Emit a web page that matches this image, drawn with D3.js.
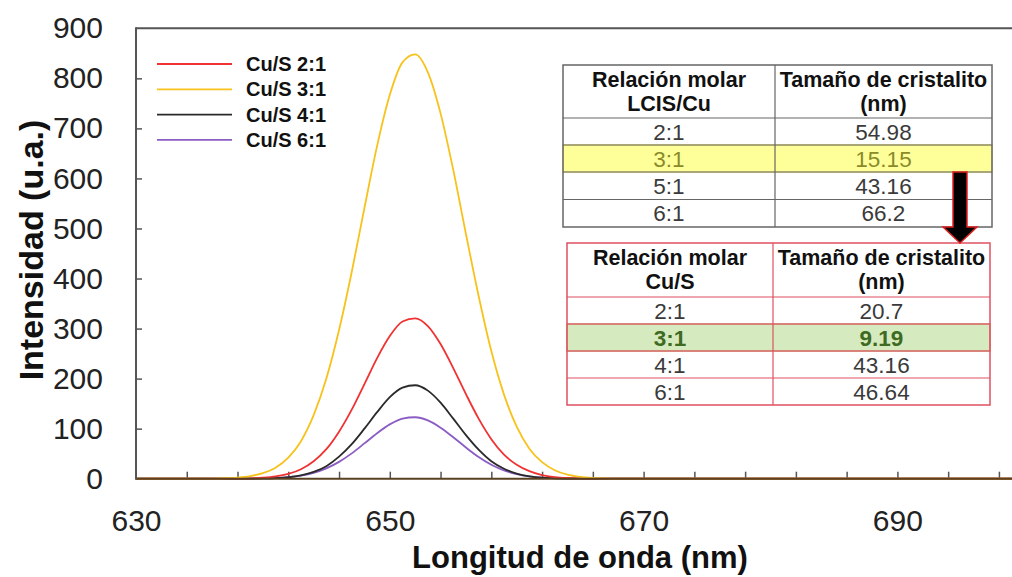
<!DOCTYPE html>
<html>
<head>
<meta charset="utf-8">
<script src="https://cdn.jsdelivr.net/npm/d3@7"></script>
<style>
  body { margin: 0; background: #fff; }
  svg { display: block; font-family: "Liberation Sans", Arial, sans-serif; }
</style>
</head>
<body>
<script>
// Datos
const wavelengths = [630, 634, 636, 637, 638, 639, 640, 641, 642, 643, 644, 645, 646, 647, 648, 649,
  650, 651, 652, 653, 654, 655, 656, 657, 658, 659, 660, 661, 662, 663, 664, 665, 666, 667, 668, 672, 700];

const cu21 = [0, 0, 0.04, 0.1, 0.3, 0.8, 2, 4.5, 9.6, 19, 35, 59, 94, 138, 189, 241,
  285, 314, 320.5, 305, 269, 221, 169, 120, 79, 48, 28, 15, 7.2, 3.3, 1.4, 0.55, 0.2, 0.07, 0, 0, 0];
const cu31 = [0, 0.05, 0.35, 0.9, 2.2, 5.1, 11, 22, 42, 75, 127, 200, 297, 413, 541, 665,
  767, 832, 848, 812, 730, 617, 489, 365, 255, 168, 104, 60, 33, 17, 8.1, 3.7, 1.6, 0.6, 0.2, 0, 0];
const cu41 = [0, 0, 0, 0.01, 0.05, 0.16, 0.45, 1.2, 2.9, 6.6, 13.5, 25, 44, 69, 100, 133,
  163, 182, 186.7, 176, 152, 120, 87, 58, 35, 20, 10.2, 4.8, 2.1, 0.8, 0.3, 0.1, 0, 0, 0, 0, 0];
const cu61 = [0, 0, 0.01, 0.03, 0.08, 0.22, 0.57, 1.4, 3, 6.2, 11.8, 20.7, 33.6, 50.6, 70.5, 90.9,
  108.5, 120, 122.8, 116.4, 102, 82.9, 62.3, 43.3, 27.9, 16.6, 9.2, 4.7, 2.2, 0.97, 0.39, 0.15, 0.05, 0, 0, 0, 0];

const seriesNames = ["Cu/S 2:1", "Cu/S 3:1", "Cu/S 4:1", "Cu/S 6:1"];
const seriesColors = ["#f03232", "#f8c21c", "#2a2a2a", "#8a5cc4"];

const xTickLabels = [630, 650, 670, 690];
const yTickLabels = [0, 100, 200, 300, 400, 500, 600, 700, 800, 900];

const table1Header = [["Relación molar", "LCIS/Cu"], ["Tamaño de cristalito", "(nm)"]];
const table1Ratios = ["2:1", "3:1", "5:1", "6:1"];
const table1Sizes = ["54.98", "15.15", "43.16", "66.2"];

const table2Header = [["Relación molar", "Cu/S"], ["Tamaño de cristalito", "(nm)"]];
const table2Ratios = ["2:1", "3:1", "4:1", "6:1"];
const table2Sizes = ["20.7", "9.19", "43.16", "46.64"];

// Tamaño
const w = 1012;
const h = 577;
const plotLeft = 136;
const plotTop = 28.3;
const plotBottom = 478.7;

const svg = d3.select("body").append("svg")
  .attr("width", w)
  .attr("height", h);

// Escalas
const x = d3.scaleLinear().domain([630, 700]).range([plotLeft, plotLeft + 70 * 12.69]);
const y = d3.scaleLinear().domain([0, 900]).range([plotBottom, plotTop]);

// Marco
svg.append("line")
  .attr("x1", plotLeft).attr("x2", w)
  .attr("y1", plotTop).attr("y2", plotTop)
  .attr("stroke", "#555").attr("stroke-width", 2);

// Eje Y
const yAxis = svg.append("g")
  .attr("transform", `translate(${plotLeft},0)`)
  .call(d3.axisLeft(y).tickValues(yTickLabels).tickSize(0).tickPadding(33));
yAxis.select(".domain").remove();
yAxis.selectAll("text").attr("font-size", 30).attr("fill", "#222")
  .attr("font-family", "Liberation Sans, Arial, sans-serif");

svg.append("g")
  .attr("transform", `translate(${plotLeft},0)`)
  .call(d3.axisRight(y).tickValues(yTickLabels.slice(1, -1)).tickSize(6).tickFormat(""))
  .call(g => g.select(".domain").remove())
  .selectAll("line").attr("stroke", "#555").attr("stroke-width", 1.5);

// Eje X
const xAxis = svg.append("g")
  .attr("transform", `translate(0,${plotBottom})`)
  .call(d3.axisBottom(x).tickValues(xTickLabels).tickSize(0).tickPadding(31));
xAxis.select(".domain").remove();
xAxis.selectAll("text").attr("font-size", 30).attr("fill", "#222")
  .attr("font-family", "Liberation Sans, Arial, sans-serif");

svg.append("g")
  .attr("transform", `translate(0,${plotBottom})`)
  .call(d3.axisTop(x).tickValues(d3.range(634, 701, 4)).tickSize(7).tickFormat(""))
  .call(g => g.select(".domain").remove())
  .selectAll("line").attr("stroke", "#555").attr("stroke-width", 1.5);

// Curvas
const series = [cu21, cu31, cu41, cu61];
const line = d3.line()
  .x((d, i) => x(wavelengths[i]))
  .y(d => y(d))
  .curve(d3.curveMonotoneX);

[3, 2, 0, 1].forEach(k => {
  svg.append("path")
    .datum(series[k])
    .attr("fill", "none")
    .attr("stroke", seriesColors[k])
    .attr("stroke-width", 1.8)
    .attr("d", line);
});

svg.append("line")
  .attr("x1", plotLeft).attr("x2", w)
  .attr("y1", plotBottom).attr("y2", plotBottom)
  .attr("stroke", "#5a4020").attr("stroke-width", 2);
svg.append("line")
  .attr("x1", plotLeft).attr("x2", plotLeft)
  .attr("y1", plotTop - 1).attr("y2", plotBottom + 1)
  .attr("stroke", "#555").attr("stroke-width", 2);

// Leyenda
seriesNames.forEach((name, i) => {
  const ly = 64 + i * 25.3;
  svg.append("line")
    .attr("x1", 157).attr("x2", 232)
    .attr("y1", ly).attr("y2", ly)
    .attr("stroke", seriesColors[i]).attr("stroke-width", 1.8);
  svg.append("text")
    .attr("x", 246).attr("y", ly + 7)
    .attr("font-size", 20).attr("font-weight", "bold").attr("fill", "#111")
    .text(name);
});

// Tablas
function drawTable(cfg) {
  const g = svg.append("g");
  const [x0, xm, x1] = cfg.xs;
  const ys = cfg.ys;
  // fila resaltada
  g.append("rect")
    .attr("x", x0).attr("y", ys[2])
    .attr("width", x1 - x0).attr("height", ys[3] - ys[2])
    .attr("fill", cfg.hlFill)
    .attr("stroke", cfg.hlStroke).attr("stroke-width", 1.5);
  // lineas
  g.append("rect")
    .attr("x", x0).attr("y", ys[0])
    .attr("width", x1 - x0).attr("height", ys[ys.length - 1] - ys[0])
    .attr("fill", "none").attr("stroke", cfg.border).attr("stroke-width", 1.5);
  ys.slice(1, -1).forEach(yy => {
    g.append("line").attr("x1", x0).attr("x2", x1).attr("y1", yy).attr("y2", yy)
      .attr("stroke", cfg.border).attr("stroke-width", 1.2);
  });
  g.append("line").attr("x1", xm).attr("x2", xm).attr("y1", ys[0]).attr("y2", ys[ys.length - 1])
    .attr("stroke", cfg.border).attr("stroke-width", 1.2);
  const cx = [(x0 + xm) / 2, (xm + x1) / 2];
  // encabezado
  cfg.header.forEach((lines, c) => {
    lines.forEach((t, j) => {
      g.append("text")
        .attr("x", cx[c]).attr("y", ys[0] + 22 + j * 24)
        .attr("text-anchor", "middle")
        .attr("font-size", 21.5).attr("font-weight", "bold").attr("fill", "#111")
        .text(t);
    });
  });
  // filas
  cfg.ratios.forEach((r, i) => {
    const yy = (ys[i + 1] + ys[i + 2]) / 2 + 8;
    const hl = i === 1;
    [r, cfg.sizes[i]].forEach((t, c) => {
      g.append("text")
        .attr("x", cx[c]).attr("y", yy)
        .attr("text-anchor", "middle")
        .attr("font-size", 22.5)
        .attr("font-weight", hl && cfg.hlBold ? "bold" : "normal")
        .attr("fill", hl ? cfg.hlText : "#3a3a3a")
        .text(t);
    });
  });
}

drawTable({
  xs: [563, 775, 992], ys: [65, 118, 145, 172, 199.5, 227],
  header: table1Header, ratios: table1Ratios, sizes: table1Sizes,
  border: "#666", hlFill: "#ffff99", hlStroke: "#e8e070", hlText: "#8a8a2a", hlBold: false
});

drawTable({
  xs: [567, 773, 990], ys: [243, 297, 324, 351, 378, 405],
  header: table2Header, ratios: table2Ratios, sizes: table2Sizes,
  border: "#e05060", hlFill: "#d5ebbf", hlStroke: "#c9a37a", hlText: "#3f6a22", hlBold: true
});

// Flecha
svg.append("path")
  .attr("d", "M953,172 L967,172 L967,227 L977,227 L960,243 L943,227 L953,227 Z")
  .attr("fill", "#000").attr("stroke", "#e02020").attr("stroke-width", 1.5);

// Títulos de ejes
svg.append("text")
  .attr("x", 580).attr("y", 568)
  .attr("text-anchor", "middle")
  .attr("font-size", 31).attr("font-weight", "bold").attr("fill", "#111")
  .text("Longitud de onda (nm)");

svg.append("text")
  .attr("transform", "translate(43,250) rotate(-90)")
  .attr("text-anchor", "middle")
  .attr("font-size", 34).attr("font-weight", "bold").attr("fill", "#111")
  .text("Intensidad (u.a.)");
</script>
</body>
</html>
